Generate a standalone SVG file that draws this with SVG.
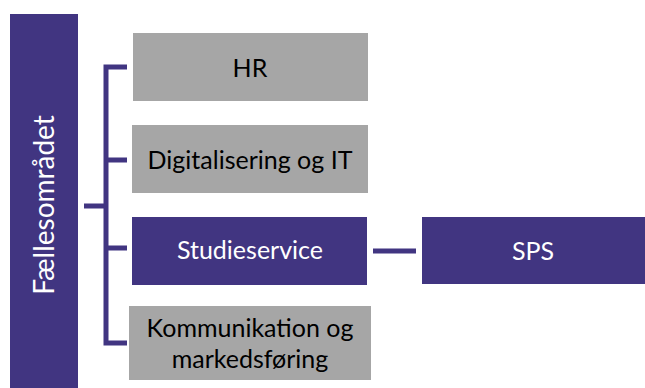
<svg xmlns="http://www.w3.org/2000/svg" width="645" height="388" viewBox="0 0 645 388">
<style>
.p{fill:#413581}
.g{fill:#a6a6a6}
.t{font-family:Lato,"Open Sans",sans-serif;font-size:25px;text-anchor:middle;dominant-baseline:central}
.w{fill:#ffffff}
.k{fill:#000000}
.c{stroke:#413581;stroke-width:5;fill:none}
</style>
<rect width="645" height="388" fill="#ffffff"/>
<g id="faellesomraadet">
<rect class="p" x="10" y="14" width="68" height="374"/>
<text class="t w" transform="translate(43,205) rotate(-90)" style="font-size:28px">Fællesområdet</text>
</g>
<g id="connectors">
<path class="c" d="M84,206H106M127,67H106V343H127M106,160H127M106,248H127M373,251H416"/>
</g>
<g id="hr">
<rect class="g" x="133" y="33" width="235" height="68"/>
<text class="t k" x="250" y="67">HR</text>
</g>
<g id="digitalisering">
<rect class="g" x="132" y="125" width="236" height="68"/>
<text class="t k" x="250" y="159">Digitalisering og IT</text>
</g>
<g id="studieservice">
<rect class="p" x="132" y="217" width="235" height="68"/>
<text class="t w" x="250" y="249">Studieservice</text>
</g>
<g id="kommunikation">
<rect class="g" x="129" y="306" width="242" height="74"/>
<text class="t k" x="250" y="327">Kommunikation og</text>
<text class="t k" x="250" y="358">markedsføring</text>
</g>
<g id="sps">
<rect class="p" x="422" y="217" width="223" height="67"/>
<text class="t w" x="533" y="250">SPS</text>
</g>
</svg>
